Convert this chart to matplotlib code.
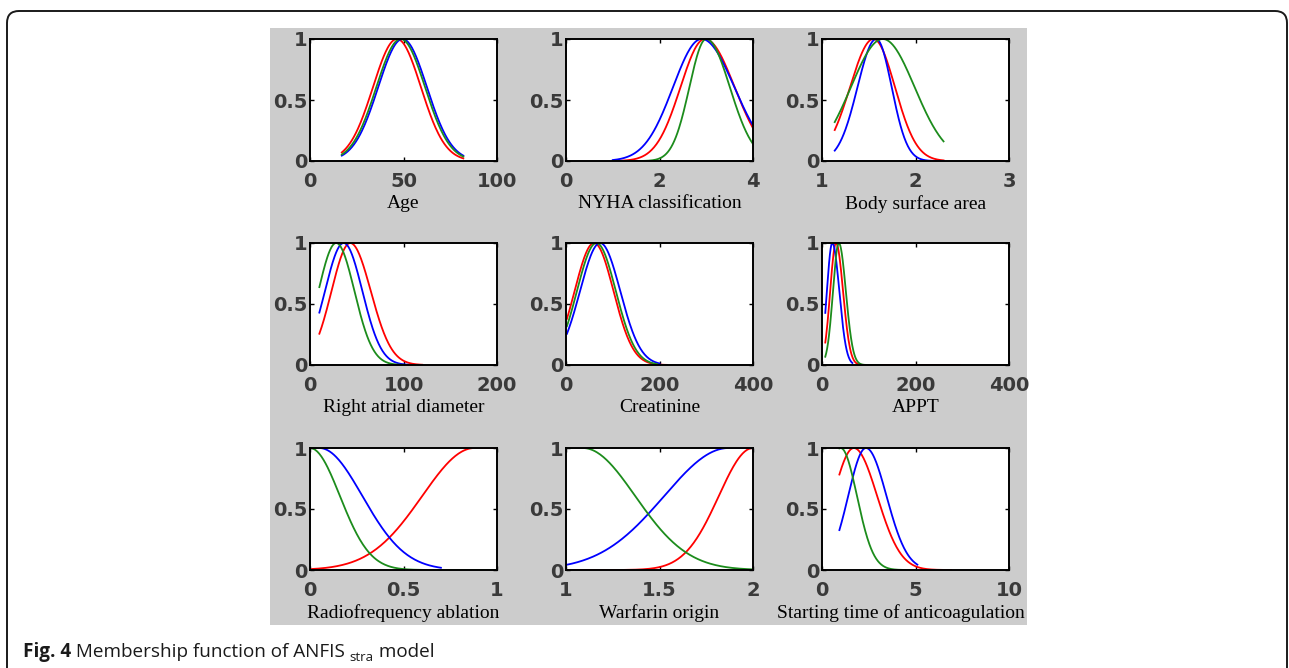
import numpy as np
import matplotlib
matplotlib.use("Agg")
import matplotlib.pyplot as plt
from matplotlib.patches import FancyBboxPatch, Rectangle

# ---------------- data ----------------
labels = ["Age", "NYHA classification", "Body surface area",
          "Right atrial diameter", "Creatinine", "APPT",
          "Radiofrequency ablation", "Warfarin origin",
          "Starting time of anticoagulation"]
x_limits = [(0, 100), (0, 4), (1, 3), (0, 200), (0, 400), (0, 400),
            (0, 1), (1, 2), (0, 10)]
x_ticks = [[0, 50, 100], [0, 2, 4], [1, 2, 3], [0, 100, 200], [0, 200, 400],
           [0, 200, 400], [0, 0.5, 1], [1, 1.5, 2], [0, 5, 10]]
x_tick_labels = [["0", "50", "100"], ["0", "2", "4"], ["1", "2", "3"],
                 ["0", "100", "200"], ["0", "200", "400"], ["0", "200", "400"],
                 ["0", "0.5", "1"], ["1", "1.5", "2"], ["0", "5", "10"]]
y_ticks = [0, 0.5, 1]
y_tick_labels = ["0", "0.5", "1"]

# membership-function parameters, one (red, green, blue) triple per panel
dom_start = [(17, 17, 17), (1, 1, 1), (1.136, 1.136, 1.136), (10, 10, 10),
             (2, 2, 2), (7, 7, 7), (0, 0, 0), (1, 1, 1), (0.93, 0.93, 0.93)]
dom_end = [(82, 82, 82), (4, 4, 4), (2.3, 2.3, 2.3), (120, 100, 105),
           (216, 195, 200), (295, 125, 65), (1, 1, 0.7), (2, 2, 2),
           (6.9, 5.0, 5.1)]
peak_lo = [(46.5, 48.5, 49.5), (2.97, 3.0, 2.9), (1.55, 1.65, 1.58),
           (43, 28, 36), (60, 65, 73), (30, 36, 22), (0.88, 0.0, 0.0),
           (2.0, 1.0, 1.87), (1.7, 1.0, 2.35)]
peak_hi = [(46.5, 48.5, 49.5), (2.97, 3.0, 2.9), (1.55, 1.65, 1.58),
           (43, 28, 36), (60, 65, 73), (30, 36, 22), (1.0, 0.0, 0.05),
           (2.0, 1.09, 2.0), (1.7, 1.0, 2.35)]
sigma_lo = [(12.8, 13.0, 13.0), (0.52, 0.36, 0.61), (0.25, 0.34, 0.20),
            (20, 19, 20), (41.6, 41.6, 43), (12.5, 12.5, 11.5),
            (0.28, 0.16, 0.23), (0.183, 0.28, 0.345), (1.1, 0.87, 0.95)]
sigma_hi = [(12.8, 13.0, 13.0), (0.636, 0.504, 0.70), (0.23, 0.34, 0.165),
            (22, 19.5, 20), (41.6, 41.6, 43), (15, 15, 15),
            (0.28, 0.16, 0.23), (0.183, 0.28, 0.345), (1.25, 0.87, 1.1)]

series_colors = ["#ff0000", "#1c8c1c", "#0000ff"]   # red, green, blue
draw_order = [0, 2, 1]                                # red, blue, green on top


def membership(x, lo, hi, s_lo, s_hi):
    y = np.ones_like(x)
    y = np.where(x < lo, np.exp(-0.5 * ((x - lo) / s_lo) ** 2), y)
    y = np.where(x > hi, np.exp(-0.5 * ((x - hi) / s_hi) ** 2), y)
    return y


# ---------------- figure ----------------
W, H = 1289, 668
fig = plt.figure(figsize=(W / 100, H / 100), dpi=100)
fig.patch.set_facecolor("white")

# outer rounded frame (bottom edge off-canvas)
frame = FancyBboxPatch((0.07, -0.4), 12.80, 6.57 + 0.4,
                       boxstyle="round,pad=0,rounding_size=0.12",
                       transform=fig.dpi_scale_trans, facecolor="none",
                       edgecolor="#1a1a1a", linewidth=1.4, zorder=-2)
fig.patches.append(frame)

# grey MATLAB-like panel
panel = Rectangle((270 / W, 1 - 625 / H), (1027 - 270) / W, (625 - 28) / H,
                  transform=fig.transFigure, facecolor="#cccccc",
                  edgecolor="none", zorder=-1)
fig.patches.append(panel)

col_left = [310, 566, 822]
col_width = 187
row_top = [39, 243, 448]
row_height = 122

tick_font = dict(family="DejaVu Sans", size=14, weight="bold",
                 color="#3a3a3a")

for i in range(9):
    r, c = divmod(i, 3)
    left = col_left[c] / W
    bottom = 1 - (row_top[r] + row_height) / H
    ax = fig.add_axes([left, bottom, col_width / W, row_height / H])
    ax.set_zorder(2)
    ax.set_facecolor("white")
    for k in draw_order:
        x = np.linspace(dom_start[i][k], dom_end[i][k], 181)
        y = membership(x, peak_lo[i][k], peak_hi[i][k],
                       sigma_lo[i][k], sigma_hi[i][k])
        ax.plot(x, y, color=series_colors[k], linewidth=1.3)
    ax.set_xlim(*x_limits[i])
    ax.set_ylim(0, 1)
    ax.set_xticks(x_ticks[i])
    ax.set_xticklabels(x_tick_labels[i], fontdict=tick_font)
    ax.set_yticks(y_ticks)
    ax.set_yticklabels(y_tick_labels, fontdict=tick_font)
    ax.tick_params(direction="in", top=True, right=True, length=3,
                   width=1.0, color="black")
    ax.tick_params(axis="x", pad=8)
    ax.tick_params(axis="y", pad=2)
    for s in ax.spines.values():
        s.set_linewidth(1.4)
        s.set_color("black")
    ax.set_xlabel(labels[i], family="Liberation Serif", size=14,
                  color="black", labelpad=3)
    if i == 8:
        # label kept inside the grey panel in the original
        ax.xaxis.set_label_coords(0.42, -0.28)

# caption
cap_y = 1 - 657 / H
fig.canvas.draw()
renderer = fig.canvas.get_renderer()
cap_size = 13.6
t1 = fig.text(23 / W, cap_y, "Fig. 4", family="Open Sans", weight="bold",
              size=cap_size, color="#1a1a1a", va="baseline")
x_next = t1.get_window_extent(renderer).x1 / W
t2 = fig.text(x_next, cap_y, " Membership function of ANFIS ",
              family="Open Sans", size=cap_size, color="#1a1a1a",
              va="baseline")
x_next = t2.get_window_extent(renderer).x1 / W
t3 = fig.text(x_next, cap_y - 4 / H, "stra", family="Open Sans", size=9.5,
              color="#1a1a1a", va="baseline")
x_next = t3.get_window_extent(renderer).x1 / W
fig.text(x_next, cap_y, " model", family="Open Sans", size=cap_size,
         color="#1a1a1a", va="baseline")

fig.savefig("out.png", dpi=100, facecolor="white")
